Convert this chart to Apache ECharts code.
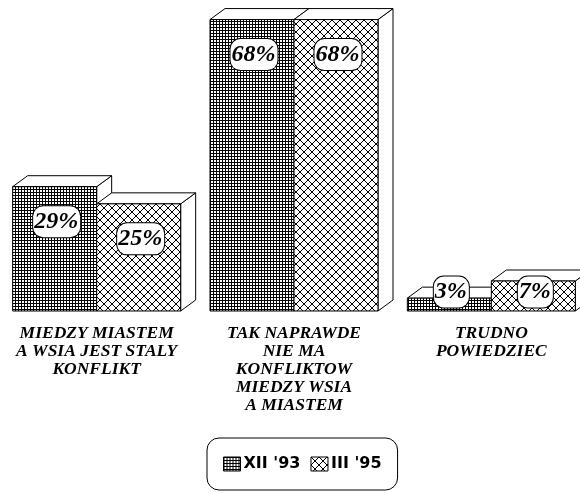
<!DOCTYPE html>
<html>
<head>
<meta charset="utf-8">
<script src="https://cdn.jsdelivr.net/npm/echarts@6/dist/echarts.min.js"></script>
<style>
  html, body { margin: 0; padding: 0; background: #fff; }
  #chart { width: 580px; height: 493px; }
</style>
</head>
<body>
<div id="chart"></div>
<script>
// dane z wykresu
const categories = [
  'MIEDZY MIASTEM\nA WSIA JEST STALY\nKONFLIKT',
  'TAK NAPRAWDE\nNIE MA\nKONFLIKTOW\nMIEDZY WSIA\nA MIASTEM',
  'TRUDNO\nPOWIEDZIEC'
];
const seriesNames = ["XII '93", "III '95"];
const dec93 = [29, 68, 3];
const mar95 = [25, 68, 7];

const serif = '"Liberation Serif", "Times New Roman", serif';

// wzory wypelnienia
function gridPattern() {
  const c = document.createElement('canvas');
  c.width = 3; c.height = 3;
  const ctx = c.getContext('2d');
  ctx.fillStyle = '#fff';
  ctx.fillRect(0, 0, 3, 3);
  ctx.fillStyle = '#000';
  ctx.fillRect(0, 0, 3, 1);
  ctx.fillRect(0, 0, 1, 3);
  return { image: c, repeat: 'repeat' };
}
function crossPattern() {
  const n = 8;
  const c = document.createElement('canvas');
  c.width = n; c.height = n;
  const ctx = c.getContext('2d');
  ctx.fillStyle = '#fff';
  ctx.fillRect(0, 0, n, n);
  ctx.fillStyle = '#000';
  for (let i = 0; i < n; i++) {
    ctx.fillRect(i, i, 1, 1);
    ctx.fillRect(n - 1 - i, i, 1, 1);
  }
  return { image: c, repeat: 'repeat' };
}
const patterns = [gridPattern(), crossPattern()];

const barW = 84, dx = 15, dy = 11;

function renderBox(params, api) {
  const ci = api.value(0), v = api.value(1);
  const top = api.coord([ci, v]);
  const base = api.coord([ci, 0]);
  const x0 = params.seriesIndex === 0 ? top[0] - barW : top[0];
  const x1 = x0 + barW;
  const ty = top[1], by = base[1];
  const line = { stroke: '#000', lineWidth: 1 };
  const ly = Math.min(ty + 35, by - 19);
  return {
    type: 'group',
    children: [
      { type: 'polygon', shape: { points: [[x1, ty], [x1 + dx, ty - dy], [x1 + dx, by - dy], [x1, by]] },
        style: Object.assign({ fill: '#fff' }, line) },
      { type: 'polygon', shape: { points: [[x0, ty], [x0 + dx, ty - dy], [x1 + dx, ty - dy], [x1, ty]] },
        style: Object.assign({ fill: '#fff' }, line) },
      { type: 'rect', shape: { x: x0, y: ty, width: barW, height: by - ty },
        style: Object.assign({ fill: patterns[params.seriesIndex] }, line) },
      { type: 'text', x: (x0 + x1) / 2 + 2, y: ly, z2: 100,
        style: {
          text: v + '%',
          fontFamily: serif, fontStyle: 'italic', fontWeight: 'bold', fontSize: 24,
          fill: '#000', align: 'center', verticalAlign: 'middle',
          backgroundColor: '#fff', borderColor: '#000', borderWidth: 1, borderRadius: 10,
          padding: [4, 2, 3, 1]
        } }
    ]
  };
}

const chart = echarts.init(document.getElementById('chart'));
chart.setOption({
  animation: false,
  backgroundColor: '#fff',
  grid: { left: -2, width: 592, top: 11, bottom: 182, outerBoundsMode: 'none', containLabel: false },
  xAxis: {
    type: 'category',
    data: categories,
    axisLine: { show: false },
    axisTick: { show: false },
    axisLabel: {
      interval: 0,
      margin: 13,
      color: '#000',
      fontFamily: serif,
      fontStyle: 'italic',
      fontWeight: 'bold',
      fontSize: 17.5,
      lineHeight: 18,
      textShadowColor: '#999',
      textShadowOffsetX: 1,
      textShadowOffsetY: 1,
      textShadowBlur: 0
    }
  },
  yAxis: { type: 'value', min: 0, max: 70, show: false },
  legend: {
    left: 207,
    top: 438,
    orient: 'horizontal',
    icon: 'rect',
    itemWidth: 17,
    itemHeight: 14,
    itemGap: 10,
    padding: [18, 16, 18, 16],
    borderColor: '#000',
    borderWidth: 1,
    borderRadius: 12,
    backgroundColor: '#fff',
    itemStyle: { borderColor: '#000', borderWidth: 1 },
    textStyle: { color: '#000', fontFamily: 'DejaVu Sans', fontWeight: 'bold', fontSize: 16, padding: [0, 0, 0, -2] },
    data: seriesNames
  },
  series: [
    { name: seriesNames[0], type: 'custom', renderItem: renderBox,
      itemStyle: { color: patterns[0] },
      data: dec93.map((v, i) => [i, v]) },
    { name: seriesNames[1], type: 'custom', renderItem: renderBox,
      itemStyle: { color: patterns[1] },
      data: mar95.map((v, i) => [i, v]) }
  ]
});
</script>
</body>
</html>
